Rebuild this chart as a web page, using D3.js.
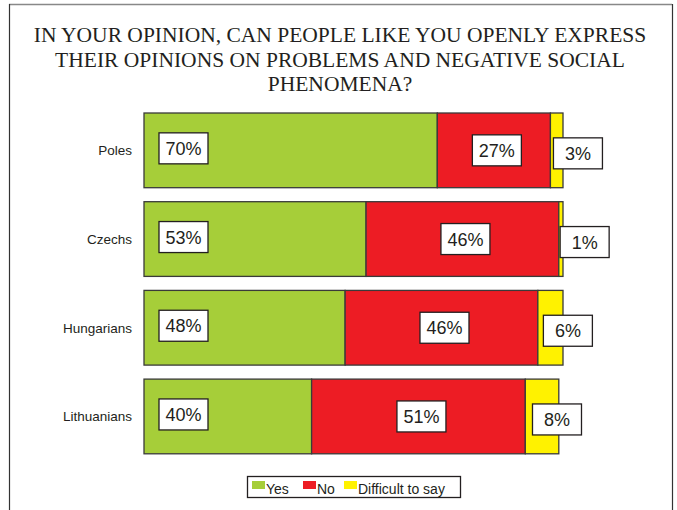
<!DOCTYPE html>
<html>
<head>
<meta charset="utf-8">
<script src="https://cdn.jsdelivr.net/npm/d3@7"></script>
<style>
  body { margin: 0; background: #fff; }
  svg { display: block; }
</style>
</head>
<body>
<div id="chart"></div>
<script>
const titleLines = [
    "IN YOUR OPINION, CAN PEOPLE LIKE YOU OPENLY EXPRESS",
    "THEIR OPINIONS ON PROBLEMS AND NEGATIVE SOCIAL",
    "PHENOMENA?"
];
const groups = ["Poles", "Czechs", "Hungarians", "Lithuanians"];
const seriesNames = ["Yes", "No", "Difficult to say"];
const yesValues = [70, 53, 48, 40];
const noValues = [27, 46, 46, 51];
const hardValues = [3, 1, 6, 8];
const colors = ["#a6ce39", "#ed1c24", "#fff200"];

let width = 677,
    height = 510,
    svg = d3.select("#chart")
        .append("svg")
        .attr("width", width)
        .attr("height", height);

// Frame (open at the bottom)
svg.append("line")
    .attr("x1", 9).attr("x2", 672).attr("y1", 4.5).attr("y2", 4.5)
    .style("stroke", "#888").style("stroke-width", 1.5);
svg.append("path")
    .attr("d", "M9.5,4 V510 M672.5,4 V510")
    .style("fill", "none").style("stroke", "#333").style("stroke-width", 1.2);

// Title
svg.append("g")
    .selectAll("text")
    .data(titleLines)
    .enter()
    .append("text")
    .attr("x", 340)
    .attr("y", (d, i) => 42 + i * 24.5)
    .attr("text-anchor", "middle")
    .style("font-family", "'Liberation Serif', 'Times New Roman', serif")
    .style("font-size", "21.5px")
    .style("fill", "#231f20")
    .text(d => d);

let x = d3.scaleLinear().domain([0, 100]).range([144, 563]),
    y = d3.scaleBand().domain(groups).range([113, 113 + 4 * 88.7 - 14]).paddingInner(14 / 88.7);

let rows = groups.map((g, i) => {
    let vals = [yesValues[i], noValues[i], hardValues[i]],
        acc = 0;
    return vals.map((v, k) => {
        let seg = {group: g, key: k, value: v, x0: acc, x1: acc + v};
        acc += v;
        return seg;
    });
});

// Category labels
svg.append("g")
    .selectAll("text")
    .data(groups)
    .enter()
    .append("text")
    .attr("x", 132)
    .attr("y", d => y(d) + y.bandwidth() / 2 + 5)
    .attr("text-anchor", "end")
    .style("font-family", "Arial, 'Liberation Sans', sans-serif")
    .style("font-size", "13.5px")
    .style("fill", "#231f20")
    .text(d => d);

// Bars
let segs = rows.flat();
svg.append("g")
    .selectAll("rect")
    .data(segs)
    .enter()
    .append("rect")
    .attr("x", d => x(d.x0))
    .attr("y", d => y(d.group))
    .attr("width", d => x(d.x1) - x(d.x0))
    .attr("height", y.bandwidth())
    .style("fill", d => colors[d.key])
    .style("stroke", "#3a3a3a")
    .style("stroke-width", 1.3);

// Value labels in boxes
const boxW = 49, boxH = 31;
function labelCenter(d) {
    let cy = y(d.group) + y.bandwidth() / 2;
    if (d.key === 0) return [x(d.x0) + 15 + boxW / 2, cy - 2];
    if (d.key === 1) return [(x(d.x0) + x(d.x1)) / 2 + 3, cy];
    let w = x(d.x1) - x(d.x0);
    return [(x(d.x0) + x(d.x1)) / 2 + 25 - 0.3 * w, cy + 3];
}

let labels = svg.append("g")
    .selectAll("g")
    .data(segs)
    .enter()
    .append("g")
    .attr("transform", d => {
        let c = labelCenter(d);
        return `translate(${c[0]},${c[1]})`;
    });

labels.append("rect")
    .attr("x", -boxW / 2)
    .attr("y", -boxH / 2)
    .attr("width", boxW)
    .attr("height", boxH)
    .style("fill", "#fff")
    .style("stroke", "#231f20")
    .style("stroke-width", 1.3);

labels.append("text")
    .attr("text-anchor", "middle")
    .attr("y", 6.5)
    .style("font-family", "Arial, 'Liberation Sans', sans-serif")
    .style("font-size", "18px")
    .style("fill", "#231f20")
    .text(d => d.value + "%");

// Legend
let legend = svg.append("g");
legend.append("rect")
    .attr("x", 247.5).attr("y", 476.5)
    .attr("width", 213).attr("height", 21)
    .style("fill", "#fff")
    .style("stroke", "#231f20")
    .style("stroke-width", 1.3);

const legendX = [252, 303, 344];
let items = legend.selectAll("g")
    .data(seriesNames)
    .enter()
    .append("g")
    .attr("transform", (d, i) => `translate(${legendX[i]},481)`);

items.append("rect")
    .attr("width", 13)
    .attr("height", 8)
    .style("fill", (d, i) => colors[i]);

items.append("text")
    .attr("x", 14)
    .attr("y", 13)
    .style("font-family", "Arial, 'Liberation Sans', sans-serif")
    .style("font-size", "14px")
    .style("fill", "#231f20")
    .text(d => d);
</script>
</body>
</html>
